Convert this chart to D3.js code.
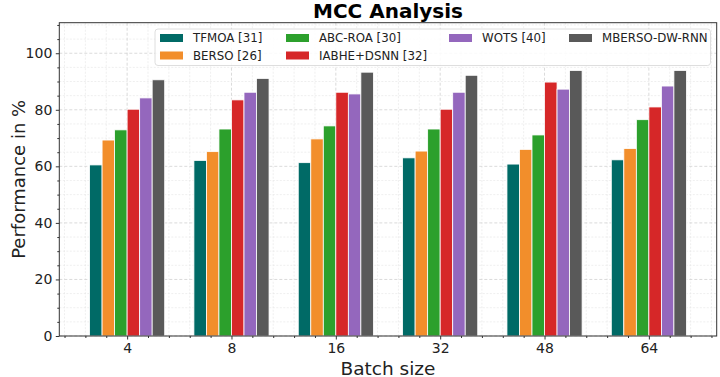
<!DOCTYPE html>
<html><head><meta charset="utf-8">
<script src="https://cdn.jsdelivr.net/npm/d3@7"></script>
<style>
html,body{margin:0;padding:0;background:#fff;}
svg{display:block;font-family:"DejaVu Sans",sans-serif;}
</style></head>
<body><div id="chart"></div>
<script>
const categories = ["4","8","16","32","48","64"];
const seriesNames = ["TFMOA [31]","BERSO [26]","ABC-ROA [30]","IABHE+DSNN [32]","WOTS [40]","MBERSO-DW-RNN"];
const tfmoa  = [60.5, 62.1, 61.3, 63.0, 60.8, 62.3];
const berso  = [69.3, 65.2, 69.7, 65.4, 66.0, 66.3];
const abcroa = [72.9, 73.2, 74.3, 73.2, 71.1, 76.5];
const iabhe  = [80.2, 83.5, 86.2, 80.2, 89.8, 81.0];
const wots   = [84.2, 86.2, 85.6, 86.2, 87.3, 88.4];
const mberso = [90.6, 91.1, 93.3, 92.2, 93.9, 93.9];
const yTicks = [0,20,40,60,80,100];
const colors = ["#006a66","#f28e2b","#2ca02c","#d62728","#9467bd","#595959"];
const seriesValues = [tfmoa, berso, abcroa, iabhe, wots, mberso];

const W = 720, H = 377;
const m = {left:59.3, right:3.3, top:22.7, bottom:41};
const iw = W - m.left - m.right, ih = H - m.top - m.bottom;

const svg = d3.select("#chart").append("svg").attr("width",W).attr("height",H);
const g = svg.append("g").attr("transform",`translate(${m.left},${m.top})`);

const x = d3.scaleLinear().domain([-0.65, 5.65]).range([0, iw]);
const y = d3.scaleLinear().domain([0, 110.8]).range([ih, 0]);

// grid
const yMinor = d3.range(0, 111, 5);
const xMinor = d3.range(-0.6, 5.61, 0.2).map(v => Math.round(v*10)/10);
const grid = g.append("g");
grid.selectAll(".ym").data(yMinor.filter(v => v%20 !== 0)).join("line")
  .attr("x1",0).attr("x2",iw).attr("y1",d=>y(d)).attr("y2",d=>y(d))
  .attr("stroke","#e4e4e4").attr("stroke-width",0.6).attr("stroke-dasharray","2,1.5");
grid.selectAll(".xm").data(xMinor.filter(v => Math.abs(v-Math.round(v))>1e-6)).join("line")
  .attr("y1",0).attr("y2",ih).attr("x1",d=>x(d)).attr("x2",d=>x(d))
  .attr("stroke","#e4e4e4").attr("stroke-width",0.6).attr("stroke-dasharray","2,1.5");
grid.selectAll(".yM").data(yTicks).join("line")
  .attr("x1",0).attr("x2",iw).attr("y1",d=>y(d)).attr("y2",d=>y(d))
  .attr("stroke","#d0d0d0").attr("stroke-width",0.8).attr("stroke-dasharray","3,2");
grid.selectAll(".xM").data(d3.range(categories.length)).join("line")
  .attr("y1",0).attr("y2",ih).attr("x1",d=>x(d)).attr("x2",d=>x(d))
  .attr("stroke","#d0d0d0").attr("stroke-width",0.8).attr("stroke-dasharray","3,2");

// bars
const bw = 0.12;
seriesValues.forEach((vals, si) => {
  g.append("g").selectAll("rect").data(vals).join("rect")
    .attr("x", (d,i) => x(i + (si - 3)*bw))
    .attr("width", x(bw) - x(0))
    .attr("y", d => y(d))
    .attr("height", d => y(0) - y(d))
    .attr("fill", colors[si])
    .attr("stroke","#ffffff").attr("stroke-width",0.8);
});

// axes
const xAxis = d3.axisBottom(x).tickValues(d3.range(categories.length))
  .tickFormat(i => categories[i]).tickSize(3.5).tickPadding(3.5);
const xa = g.append("g").attr("transform",`translate(0,${ih})`).call(xAxis);
xa.selectAll("text").attr("font-size",14).attr("fill","#222").attr("font-family","DejaVu Sans");
xa.select(".domain").remove();
g.append("g").attr("transform",`translate(0,${ih})`)
  .call(d3.axisBottom(x).tickValues(xMinor.filter(v => Math.abs(v-Math.round(v))>1e-6)).tickSize(2).tickFormat(""))
  .call(s=>s.select(".domain").remove());

const yAxis = d3.axisLeft(y).tickValues(yTicks).tickSize(3.5).tickPadding(3.5);
const ya = g.append("g").call(yAxis);
ya.selectAll("text").attr("font-size",14).attr("fill","#222").attr("font-family","DejaVu Sans");
ya.select(".domain").remove();
g.append("g").call(d3.axisLeft(y).tickValues(yMinor.filter(v=>v%20!==0)).tickSize(2).tickFormat(""))
  .call(s=>s.select(".domain").remove());
svg.selectAll(".tick line").attr("stroke","#333");

// frame
g.append("rect").attr("x",0).attr("y",0).attr("width",iw).attr("height",ih)
  .attr("fill","none").attr("stroke","#333").attr("stroke-width",1);

// labels
svg.append("text").attr("x", m.left + iw/2).attr("y", 18)
  .attr("text-anchor","middle").attr("font-size",20).attr("font-weight","bold")
  .attr("fill","#000").text("MCC Analysis");
svg.append("text").attr("x", m.left + iw/2).attr("y", 374.5)
  .attr("text-anchor","middle").attr("font-size",18.5).attr("fill","#222").text("Batch size");
svg.append("text").attr("transform",`translate(18,${m.top+ih/2}) rotate(-90)`)
  .attr("text-anchor","middle").attr("dominant-baseline","central")
  .attr("font-size",18).attr("fill","#222").text("Performance in %");

// legend
const leg = svg.append("g");
leg.append("rect").attr("x",155).attr("y",29).attr("width",555.5).attr("height",36.5)
  .attr("rx",3).attr("fill","#fff").attr("fill-opacity",0.85)
  .attr("stroke","#d6d6d6").attr("stroke-width",0.8);
const colX = [160, 286, 449, 569];
const rowY = [38, 55.5];
seriesNames.forEach((name, i) => {
  let col, row;
  if (i < 4) { col = Math.floor(i/2); row = i%2; } else { col = i - 2; row = 0; }
  const px = colX[col], py = rowY[row];
  leg.append("rect").attr("x",px).attr("y",py-4).attr("width",23).attr("height",8).attr("fill",colors[i]);
  leg.append("text").attr("x",px+33).attr("y",py).attr("dominant-baseline","central")
    .attr("font-size",11.8).attr("fill","#222").text(name);
});
</script></body></html>
